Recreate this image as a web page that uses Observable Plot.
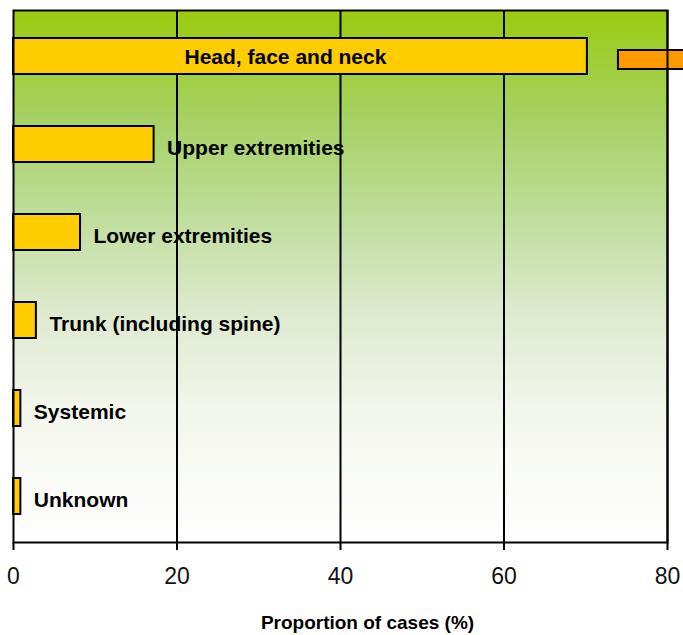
<!DOCTYPE html>
<html>
<head>
<meta charset="utf-8">
<script src="https://cdn.jsdelivr.net/npm/d3@7"></script>
<script src="https://cdn.jsdelivr.net/npm/@observablehq/plot@0.6"></script>
<style>
  body { margin: 0; background: #ffffff; }
  svg text { font-family: "Liberation Sans", Arial, sans-serif; }
</style>
</head>
<body>
<div id="chart"></div>
<script>
const categories = ["Head, face and neck", "Upper extremities", "Lower extremities", "Trunk (including spine)", "Systemic", "Unknown"];
const values = [70.2, 17.2, 8.2, 2.8, 0.9, 0.9];
const xTicks = [0, 20, 40, 60, 80];
const gridValues = [20, 40, 60, 80];
const extraCategory = ["Head, face and neck"];
const extraStart = [74];
const extraEnd = [90];
const xLabel = "Proportion of cases (%)";

const rows = categories.map((c, i) => ({cat: c, value: values[i]}));
const extra = extraCategory.map((c, i) => ({cat: c, x1: extraStart[i], x2: extraEnd[i]}));

const plot = Plot.plot({
  width: 683,
  height: 635,
  marginTop: 10,
  marginBottom: 93,
  marginLeft: 13,
  marginRight: 16,
  x: {domain: [0, 80]},
  y: {domain: categories, paddingInner: 0.59, paddingOuter: 0.3, axis: null},
  marks: [
    Plot.frame({fill: "url(#bgGrad)"}),
    Plot.ruleX(gridValues, {stroke: "black", strokeWidth: 2}),
    Plot.barX(rows, {x: "value", y: "cat", fill: "#ffcc00", stroke: "black", strokeWidth: 2}),
    Plot.barX(extra, {x1: "x1", x2: "x2", y: "cat", fill: "#ff9900", stroke: "black", strokeWidth: 2, insetTop: 12, insetBottom: 5}),
    Plot.text(rows.slice(0, 1), {x: d => d.value / 2, y: "cat", text: "cat", fontWeight: "bold", fontSize: 21, fill: "black", dx: -15, dy: 1}),
    Plot.text(rows.slice(1), {x: "value", y: "cat", text: "cat", textAnchor: "start", fontWeight: "bold", fontSize: 21, fill: "black", dx: 13, dy: 4}),
    Plot.frame({stroke: "black", strokeWidth: 2}),
    Plot.axisX({ticks: xTicks, tickSize: 8, tickPadding: 17, fontSize: 23, label: null, stroke: "black", strokeWidth: 2, color: "#111"}),
    Plot.text([xLabel], {frameAnchor: "bottom", text: d => d, dy: 86, dx: 27, fontWeight: "bold", fontSize: 19, fill: "black"})
  ]
});

const svgSel = d3.select(plot);
const defs = svgSel.insert("defs", ":first-child");
const grad = defs.append("linearGradient").attr("id", "bgGrad").attr("x1", 0).attr("y1", 0).attr("x2", 0).attr("y2", 1);
[["0%", "#99cc0f"], ["20%", "#a6d163"], ["37%", "#bcdc96"], ["56%", "#dde9cd"], ["75%", "#f3f6ec"], ["100%", "#ffffff"]].forEach(([o, c]) => {
  grad.append("stop").attr("offset", o).attr("stop-color", c);
});

document.getElementById("chart").appendChild(plot);
</script>
</body>
</html>
